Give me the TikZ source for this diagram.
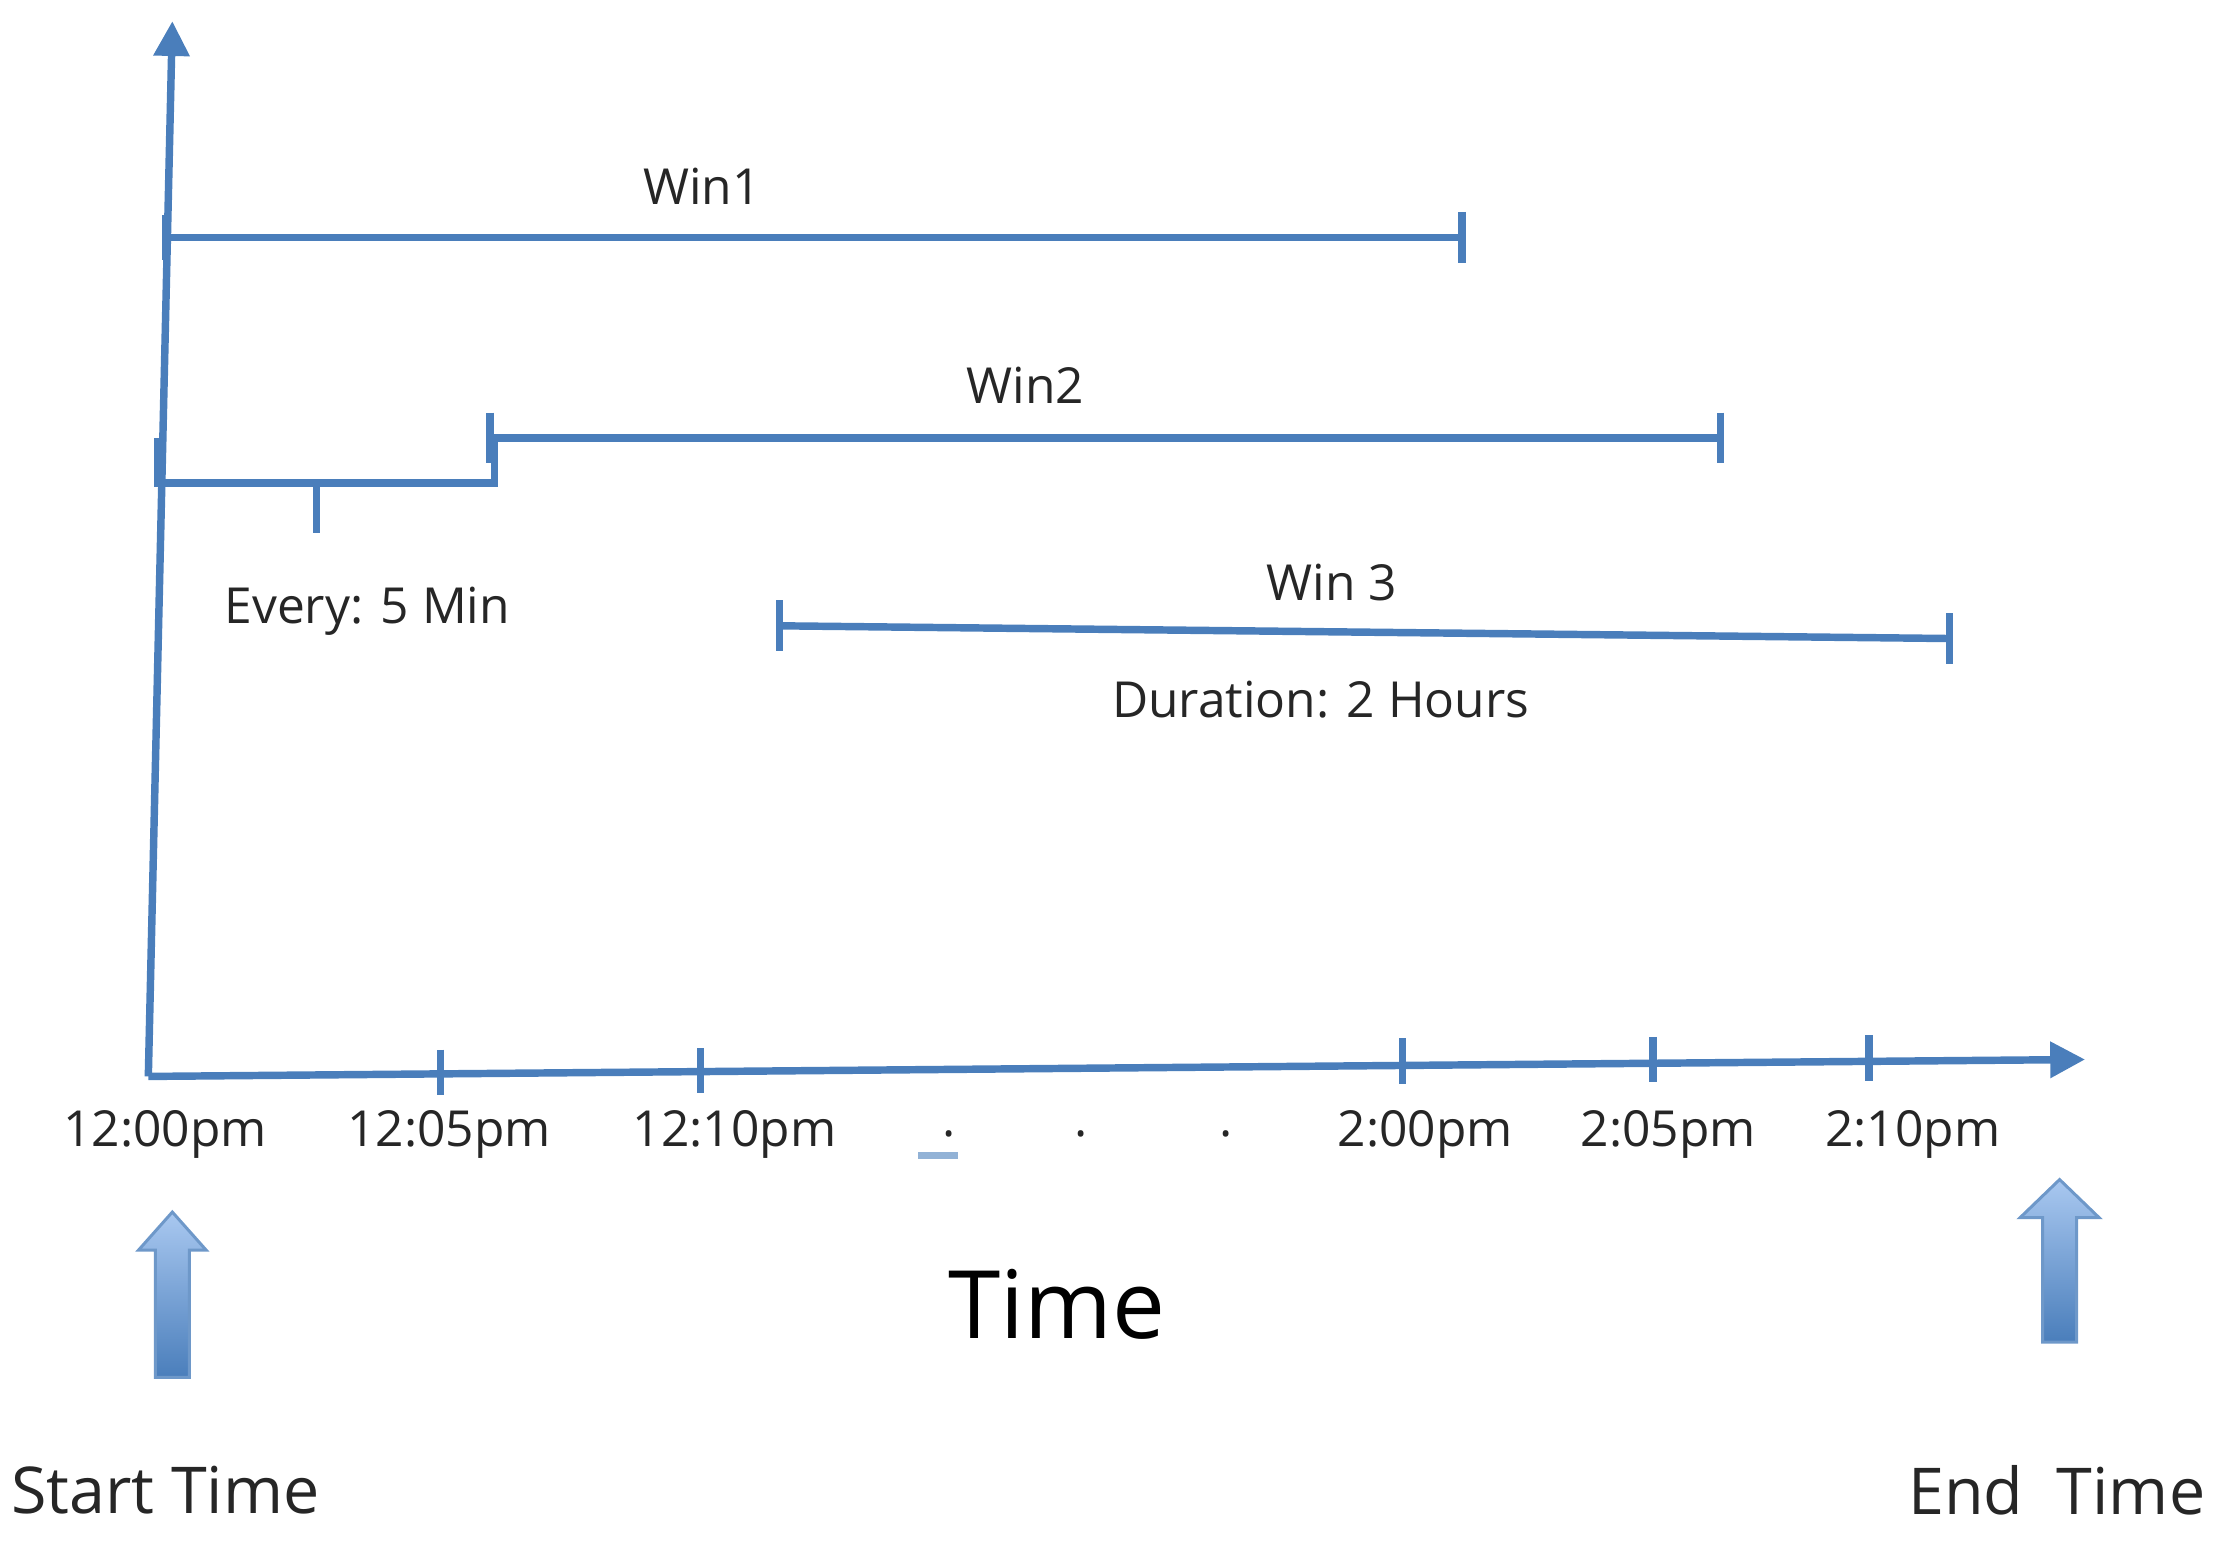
\documentclass[tikz,border=0pt]{standalone}
\usepackage{fontspec}
\setmainfont{Open Sans}
\usetikzlibrary{arrows.meta}
\definecolor{ax}{HTML}{4A7EBB}
\definecolor{lt}{HTML}{A9C8F0}
\begin{document}
\begin{tikzpicture}[x=0.01cm,y=-0.01cm,
  ln/.style={draw=ax,line width=1.5pt},
  tk/.style={draw=ax,line width=1.5pt},
  lbl/.style={font=\fontsize{10}{12}\selectfont,text=black!85},
  blk/.style={draw=ax!80,top color=lt,bottom color=ax,line width=0.6pt}]
\useasboundingbox (0,0) rectangle (1568,1093);
% axes
\coordinate (o) at (105,762);
\coordinate (ytop) at (122,15);
\coordinate (xend) at (1476,750);
\draw[ln,-{Triangle[length=7pt,width=7pt]}] (o) -- (ytop);
\draw[ln,-{Triangle[length=7pt,width=7pt]}] (o) -- (xend);
% ticks on x axis
\foreach \x/\y in {312/760,496/759,993/752,1170/751,1323/750}
  \draw[tk] (\x,\y-17) -- (\x,\y+15);
% time labels
\node[lbl] (t0) at (117,803) {12:00pm};
\node[lbl] (t1) at (318,803) {12:05pm};
\node[lbl] (t2) at (520,803) {12:10pm};
\node[lbl] (t3) at (1009,803) {2:00pm};
\node[lbl] (t4) at (1181,803) {2:05pm};
\node[lbl] (t5) at (1354,803) {2:10pm};
\node[lbl] (d1) at (672,803) {.};
\node[lbl] (d2) at (765,803) {.};
\node[lbl] (d3) at (868,803) {.};
\draw[draw=ax!60,line width=1.5pt] (650,818) -- (678,818);
% Win1
\coordinate (w1a) at (117,168); \coordinate (w1b) at (1035,168);
\draw[ln] (w1a) -- (w1b);
\draw[tk] (117,152) -- (117,184);
\draw[tk] (1035,150) -- (1035,186);
\node[lbl] (w1) at (497,132) {Win1};
% Win2
\coordinate (w2a) at (347,310); \coordinate (w2b) at (1218,310);
\draw[ln] (w2a) -- (w2b);
\draw[tk] (347,292) -- (347,328);
\draw[tk] (1218,292) -- (1218,328);
\node[lbl] (w2) at (726,273) {Win2};
% brace
\draw[ln] (112,310) -- (112,342) -- (350,342) -- (350,310);
\draw[tk] (224,342) -- (224,377);
\node[lbl] (ev) at (260,433) {Every: 5 Min};
% Win3
\coordinate (w3a) at (552,443); \coordinate (w3b) at (1380,452);
\draw[ln] (w3a) -- (w3b);
\draw[tk] (552,425) -- (552,461);
\draw[tk] (1380,434) -- (1380,470);
\node[lbl] (w3) at (943,412) {Win 3};
\node[lbl] (dur) at (935,495) {Duration: 2 Hours};
% Time
\node[font=\fontsize{19}{22}\selectfont,text=black] (time) at (748,923) {Time};
% block arrows
\path[blk] (110,975) -- (134,975) -- (134,885) -- (146,885) -- (122,858) -- (98,885) -- (110,885) -- cycle;
\path[blk] (1446,950) -- (1470,950) -- (1470,862) -- (1486,862) -- (1458,835) -- (1430,862) -- (1446,862) -- cycle;
\node[lbl,font=\fontsize{13}{15}\selectfont] (st) at (117,1055) {Start Time};
\node[lbl,font=\fontsize{13}{15}\selectfont] (et) at (1456,1055) {End\ \ Time};
\end{tikzpicture}
\end{document}
